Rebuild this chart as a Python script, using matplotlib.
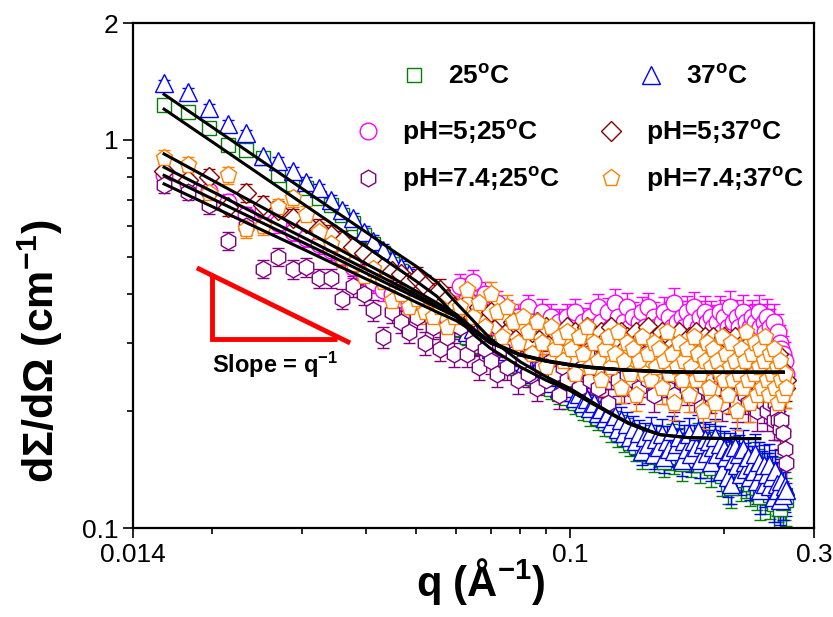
# SANS curves: dSigma/dOmega vs q for temperature / pH series
import numpy as np
import matplotlib
matplotlib.use("Agg")
from matplotlib import pyplot as plt
from matplotlib.lines import Line2D

plt.rcParams['font.family'] = ['Liberation Sans', 'DejaVu Sans']
plt.rcParams['mathtext.fontset'] = 'custom'
plt.rcParams['mathtext.rm'] = 'Liberation Sans:bold'
plt.rcParams['mathtext.it'] = 'Liberation Sans:bold'
plt.rcParams['mathtext.bf'] = 'Liberation Sans:bold'

# q grid (1/A)
q = [0.0161, 0.0179, 0.0197, 0.0215, 0.0233, 0.0251, 0.0269, 0.0287, 0.0305, 0.0323,
     0.0341, 0.0359, 0.0377, 0.0395, 0.0413, 0.0431, 0.0449, 0.0467, 0.0485, 0.0503,
     0.0521, 0.0539, 0.0557, 0.0575, 0.0593,
     0.0611, 0.0629, 0.0647, 0.0665, 0.0683, 0.0701, 0.0719, 0.0737, 0.0755, 0.0773,
     0.0791, 0.0809, 0.0827, 0.0845, 0.0863, 0.0881, 0.0899, 0.0917, 0.0935, 0.0953,
     0.0971, 0.0989, 0.1007, 0.1025, 0.1043, 0.1061, 0.1079, 0.1097, 0.1115, 0.1133,
     0.1151, 0.1169, 0.1187, 0.1205, 0.1223, 0.1241, 0.1259, 0.1277, 0.1295, 0.1313,
     0.1331, 0.1349, 0.1367, 0.1385, 0.1403, 0.1421, 0.1439, 0.1457, 0.1475, 0.1493,
     0.1511, 0.1529, 0.1547, 0.1565, 0.1583, 0.1601, 0.1619, 0.1637, 0.1655, 0.1673,
     0.1691, 0.1709, 0.1727, 0.1745, 0.1763, 0.1781, 0.1799, 0.1817, 0.1835, 0.1853,
     0.1871, 0.1889, 0.1907, 0.1925, 0.1943, 0.1961, 0.1979, 0.1997, 0.2015, 0.2033,
     0.2051, 0.2069, 0.2087, 0.2105, 0.2123, 0.2141, 0.2159, 0.2177, 0.2195, 0.2213,
     0.2231, 0.2249, 0.2267, 0.2285, 0.2303, 0.2321, 0.2339, 0.2357, 0.2375, 0.2393,
     0.2411, 0.2429, 0.2447, 0.2465, 0.2483, 0.2501, 0.2519, 0.2537, 0.2555, 0.2573,
     0.2591, 0.2609, 0.2627, 0.2645]

i_25C = [1.23, 1.18, 1.07, 0.97, 0.94, 0.90, 0.81, 0.77, 0.75, 0.71,
         0.68, 0.64, 0.61, 0.57, 0.54, 0.51, 0.48, 0.46, 0.44, 0.42,
         0.40, 0.38, 0.36, 0.35, 0.335,
         0.325, 0.31, 0.315, 0.295, 0.30, 0.282, 0.29, 0.272, 0.278, 0.262,
         0.268, 0.252, 0.258, 0.244, 0.25, 0.236, 0.242, 0.228, 0.236, 0.222,
         0.228, 0.216, 0.222, 0.21, 0.214, 0.203, 0.208, 0.197, 0.203, 0.192,
         0.196, 0.186, 0.19, 0.18, 0.186, 0.175, 0.182, 0.17, 0.178, 0.166,
         0.172, 0.162, 0.168, 0.155, 0.165, 0.16, 0.17, 0.152, 0.163, 0.157,
         0.168, 0.148, 0.162, 0.155, 0.17, 0.152, 0.158, 0.165, 0.146, 0.16,
         0.155, 0.168, 0.15, 0.16, 0.155, 0.17, 0.145, 0.158, 0.162, 0.15,
         0.16, 0.143, 0.155, 0.165, 0.148, 0.158, 0.136, 0.153, 0.146, 0.13,
         0.15, 0.127, 0.144, 0.155, 0.14, 0.148, 0.133, 0.152, 0.142, 0.136,
         0.145, 0.13, 0.14, 0.134, 0.148, 0.127, 0.142, 0.12, 0.134, 0.138,
         0.125, 0.132, 0.138, 0.122, 0.13, 0.115, 0.134, 0.124, 0.12, 0.112,
         0.126, 0.116, 0.122, 0.118]

i_37C = [1.40, 1.33, 1.21, 1.10, 1.04, 0.91, 0.88, 0.83, 0.78, 0.75,
         0.70, 0.66, 0.63, 0.58, 0.55, 0.52, 0.49, 0.47, 0.45, 0.43,
         0.41, 0.39, 0.37, 0.355, 0.34,
         0.335, 0.32, 0.325, 0.305, 0.31, 0.29, 0.30, 0.28, 0.285, 0.27,
         0.275, 0.26, 0.265, 0.25, 0.258, 0.242, 0.25, 0.236, 0.245, 0.23,
         0.236, 0.224, 0.23, 0.216, 0.222, 0.21, 0.215, 0.204, 0.21, 0.198,
         0.203, 0.192, 0.198, 0.186, 0.194, 0.18, 0.19, 0.176, 0.185, 0.172,
         0.18, 0.168, 0.176, 0.158, 0.172, 0.165, 0.178, 0.155, 0.17, 0.162,
         0.175, 0.152, 0.168, 0.16, 0.178, 0.158, 0.165, 0.172, 0.15, 0.168,
         0.16, 0.175, 0.155, 0.168, 0.162, 0.178, 0.15, 0.165, 0.17, 0.156,
         0.168, 0.148, 0.162, 0.172, 0.155, 0.165, 0.14, 0.16, 0.152, 0.135,
         0.158, 0.13, 0.15, 0.162, 0.145, 0.155, 0.138, 0.16, 0.148, 0.142,
         0.152, 0.135, 0.145, 0.14, 0.155, 0.132, 0.148, 0.125, 0.14, 0.145,
         0.13, 0.138, 0.145, 0.128, 0.135, 0.12, 0.14, 0.13, 0.125, 0.118,
         0.132, 0.122, 0.128, 0.125]

i_ph5_25 = [0.81, 0.77, 0.74, 0.69, 0.64, 0.66, 0.61, 0.58, 0.56, 0.54,
            0.52, 0.50, 0.47, 0.45, 0.43, 0.41, 0.40, 0.39, 0.38, 0.37,
            0.40, 0.36, 0.38, 0.35, 0.37,
            0.42, 0.39, 0.43, 0.37, 0.40, 0.34, 0.38, 0.33, 0.36, 0.30,
            0.35, 0.32, 0.37, 0.34, 0.31, 0.36, 0.33, 0.35, 0.32, 0.34,
            0.31, 0.35, 0.33, 0.36, 0.32, 0.34, 0.30, 0.35, 0.33, 0.37,
            0.34, 0.32, 0.36, 0.33, 0.38, 0.35, 0.32, 0.34, 0.37, 0.33,
            0.35, 0.31, 0.34, 0.36, 0.33, 0.37, 0.32, 0.35, 0.33, 0.30,
            0.34, 0.36, 0.32, 0.35, 0.33, 0.38, 0.34, 0.31, 0.35, 0.33,
            0.36, 0.32, 0.34, 0.37, 0.31, 0.33, 0.35, 0.32, 0.36, 0.34,
            0.31, 0.35, 0.33, 0.30, 0.34, 0.36, 0.32, 0.35, 0.31, 0.33,
            0.37, 0.32, 0.34, 0.30, 0.35, 0.33, 0.31, 0.36, 0.32, 0.34,
            0.30, 0.33, 0.35, 0.31, 0.34, 0.32, 0.36, 0.33, 0.30, 0.34,
            0.32, 0.35, 0.31, 0.33, 0.30, 0.34, 0.31, 0.29, 0.32, 0.30,
            0.29, 0.28, 0.27, 0.25]

i_ph5_37 = [0.83, 0.79, 0.80, 0.67, 0.73, 0.68, 0.66, 0.63, 0.61, 0.59,
            0.57, 0.55, 0.53, 0.51, 0.49, 0.47, 0.46, 0.45, 0.43, 0.44,
            0.42, 0.40, 0.41, 0.39, 0.37,
            0.36, 0.38, 0.35, 0.37, 0.34, 0.36, 0.33, 0.35, 0.32, 0.34,
            0.31, 0.33, 0.30, 0.32, 0.34, 0.31, 0.33, 0.30, 0.32, 0.29,
            0.31, 0.33, 0.30, 0.32, 0.28, 0.31, 0.33, 0.29, 0.31, 0.30,
            0.32, 0.29, 0.31, 0.33, 0.28, 0.30, 0.32, 0.29, 0.31, 0.27,
            0.30, 0.32, 0.28, 0.31, 0.29, 0.33, 0.30, 0.28, 0.31, 0.29,
            0.32, 0.28, 0.30, 0.31, 0.27, 0.30, 0.29, 0.32, 0.28, 0.30,
            0.29, 0.31, 0.27, 0.30, 0.32, 0.28, 0.30, 0.29, 0.31, 0.27,
            0.30, 0.28, 0.31, 0.29, 0.27, 0.30, 0.28, 0.31, 0.29, 0.27,
            0.30, 0.28, 0.29, 0.31, 0.27, 0.29, 0.28, 0.30, 0.26, 0.29,
            0.28, 0.30, 0.27, 0.29, 0.28, 0.26, 0.29, 0.27, 0.30, 0.28,
            0.26, 0.29, 0.27, 0.28, 0.26, 0.28, 0.27, 0.25, 0.28, 0.26,
            0.25, 0.24, 0.23, 0.24]

i_ph74_25 = [0.766, 0.736, 0.68, 0.55, 0.60, 0.465, 0.50, 0.465, 0.47, 0.44,
             0.44, 0.39, 0.42, 0.40, 0.365, 0.31, 0.36, 0.34, 0.32, 0.35,
             0.30, 0.33, 0.29, 0.31, 0.28,
             0.33, 0.28, 0.30, 0.26, 0.29, 0.27, 0.25, 0.29, 0.26, 0.28,
             0.24, 0.27, 0.25, 0.28, 0.23, 0.26, 0.24, 0.27, 0.25, 0.22,
             0.26, 0.24, 0.27, 0.25, 0.23, 0.26, 0.28, 0.24, 0.26, 0.23,
             0.25, 0.27, 0.21, 0.25, 0.26, 0.24, 0.27, 0.23, 0.25, 0.26,
             0.24, 0.27, 0.23, 0.25, 0.28, 0.24, 0.26, 0.22, 0.25, 0.27,
             0.24, 0.26, 0.23, 0.25, 0.27, 0.22, 0.25, 0.26, 0.24, 0.27,
             0.23, 0.25, 0.26, 0.22, 0.25, 0.27, 0.24, 0.26, 0.23, 0.25,
             0.27, 0.22, 0.24, 0.26, 0.23, 0.25, 0.21, 0.24, 0.26, 0.23,
             0.25, 0.22, 0.24, 0.26, 0.21, 0.24, 0.23, 0.25, 0.22, 0.24,
             0.21, 0.23, 0.25, 0.22, 0.24, 0.20, 0.23, 0.22, 0.24, 0.21,
             0.23, 0.20, 0.22, 0.21, 0.23, 0.19, 0.21, 0.20, 0.19, 0.18,
             0.19, 0.176, 0.16, 0.147]

i_ph74_37 = [0.897, 0.86, 0.73, 0.81, 0.59, 0.60, 0.67, 0.71, 0.64, 0.58,
             0.54, 0.50, 0.48, 0.445, 0.466, 0.43, 0.384, 0.40, 0.37, 0.39,
             0.36, 0.35, 0.37, 0.33, 0.35,
             0.37, 0.41, 0.35, 0.38, 0.33, 0.40, 0.36, 0.31, 0.37, 0.34,
             0.30, 0.35, 0.32, 0.28, 0.34, 0.30, 0.26, 0.33, 0.29, 0.31,
             0.27, 0.32, 0.29, 0.25, 0.31, 0.28, 0.33, 0.26, 0.30, 0.27,
             0.24, 0.29, 0.31, 0.26, 0.28, 0.32, 0.23, 0.27, 0.30, 0.25,
             0.29, 0.22, 0.27, 0.31, 0.25, 0.28, 0.24, 0.30, 0.26, 0.29,
             0.23, 0.27, 0.32, 0.25, 0.28, 0.21, 0.26, 0.30, 0.24, 0.27,
             0.29, 0.22, 0.26, 0.31, 0.24, 0.28, 0.25, 0.20, 0.27, 0.30,
             0.23, 0.26, 0.29, 0.21, 0.27, 0.25, 0.31, 0.24, 0.28, 0.22,
             0.26, 0.30, 0.24, 0.27, 0.20, 0.25, 0.29, 0.23, 0.27, 0.32,
             0.24, 0.21, 0.28, 0.25, 0.30, 0.22, 0.26, 0.29, 0.23, 0.27,
             0.31, 0.24, 0.22, 0.28, 0.25, 0.29, 0.23, 0.26, 0.21, 0.27,
             0.24, 0.22, 0.25, 0.23]

# relative errors
rel_err_temp = [0.02, 0.02, 0.02, 0.022, 0.022, 0.024, 0.024, 0.026, 0.026, 0.028,
                0.028, 0.03, 0.03, 0.032, 0.032, 0.034, 0.034, 0.036, 0.036, 0.038,
                0.038, 0.04, 0.04, 0.042, 0.042,
                0.044, 0.045, 0.046, 0.047, 0.048, 0.049, 0.05, 0.05, 0.051, 0.052,
                0.053, 0.054, 0.055, 0.056, 0.057, 0.058, 0.058, 0.059, 0.06, 0.061,
                0.062, 0.063, 0.064, 0.064, 0.065, 0.066, 0.067, 0.068, 0.069, 0.07,
                0.07, 0.071, 0.072, 0.073, 0.074, 0.075, 0.076, 0.076, 0.077, 0.078,
                0.079, 0.08, 0.081, 0.082, 0.082, 0.083, 0.084, 0.085, 0.086, 0.087,
                0.088, 0.088, 0.089, 0.09, 0.091, 0.092, 0.093, 0.094, 0.094, 0.095,
                0.096, 0.097, 0.098, 0.099, 0.1, 0.1, 0.101, 0.102, 0.103, 0.104,
                0.105, 0.106, 0.106, 0.107, 0.108, 0.109, 0.11, 0.111, 0.112, 0.112,
                0.113, 0.114, 0.115, 0.116, 0.117, 0.118, 0.118, 0.119, 0.12, 0.121,
                0.122, 0.123, 0.124, 0.124, 0.125, 0.126, 0.127, 0.128, 0.129, 0.13,
                0.13, 0.131, 0.132, 0.133, 0.134, 0.135, 0.136, 0.136, 0.137, 0.138,
                0.139, 0.14, 0.141, 0.142]
rel_err_ph = [0.05, 0.05, 0.05, 0.052, 0.052, 0.054, 0.054, 0.056, 0.056, 0.058,
              0.058, 0.06, 0.06, 0.062, 0.062, 0.064, 0.064, 0.066, 0.066, 0.068,
              0.068, 0.07, 0.07, 0.07, 0.072,
              0.072, 0.072, 0.073, 0.073, 0.074, 0.074, 0.075, 0.075, 0.076, 0.076,
              0.077, 0.077, 0.078, 0.078, 0.079, 0.079, 0.08, 0.08, 0.08, 0.081,
              0.081, 0.082, 0.082, 0.083, 0.083, 0.084, 0.084, 0.085, 0.085, 0.085,
              0.086, 0.086, 0.087, 0.087, 0.088, 0.088, 0.088, 0.089, 0.089, 0.09,
              0.09, 0.09, 0.091, 0.091, 0.092, 0.092, 0.092, 0.093, 0.093, 0.094,
              0.094, 0.094, 0.095, 0.095, 0.095, 0.096, 0.096, 0.096, 0.097, 0.097,
              0.097, 0.098, 0.098, 0.098, 0.099, 0.099, 0.099, 0.1, 0.1, 0.1,
              0.1, 0.101, 0.101, 0.101, 0.102, 0.102, 0.102, 0.103, 0.103, 0.103,
              0.104, 0.104, 0.104, 0.105, 0.105, 0.105, 0.106, 0.106, 0.106, 0.107,
              0.107, 0.107, 0.108, 0.108, 0.108, 0.109, 0.109, 0.109, 0.11, 0.11,
              0.11, 0.11, 0.111, 0.111, 0.111, 0.112, 0.112, 0.112, 0.113, 0.113,
              0.113, 0.114, 0.114, 0.114]

# fitted curves
fit_q_temp = [0.0161, 0.02, 0.025, 0.03, 0.035, 0.04, 0.045, 0.05, 0.055, 0.06,
              0.065, 0.07, 0.08, 0.09, 0.1, 0.11, 0.12, 0.13, 0.14, 0.15,
              0.17, 0.2, 0.235]
fit_37C = [1.31, 1.078, 0.882, 0.748, 0.651, 0.578, 0.519, 0.473, 0.43, 0.38,
           0.34, 0.307, 0.268, 0.245, 0.229, 0.212, 0.198, 0.187, 0.18, 0.174,
           0.171, 0.17, 0.17]
fit_25C = [1.20, 0.988, 0.808, 0.686, 0.597, 0.53, 0.476, 0.433, 0.395, 0.35,
           0.314, 0.29, 0.26, 0.24, 0.226, 0.21, 0.197, 0.186, 0.179, 0.174,
           0.171, 0.17, 0.17]
fit_q_ph = [0.0161, 0.02, 0.025, 0.03, 0.035, 0.04, 0.045, 0.05, 0.055, 0.06,
            0.065, 0.07, 0.08, 0.09, 0.1, 0.11, 0.12, 0.13, 0.14, 0.15,
            0.17, 0.2, 0.235, 0.261]
fit_ph74_37 = [0.92, 0.787, 0.671, 0.589, 0.527, 0.479, 0.441, 0.408, 0.38, 0.355,
               0.325, 0.302, 0.28, 0.27, 0.264, 0.26, 0.257, 0.255, 0.254, 0.253,
               0.252, 0.252, 0.252, 0.252]
fit_ph5_37 = [0.85, 0.736, 0.634, 0.562, 0.507, 0.464, 0.429, 0.40, 0.373, 0.35,
              0.323, 0.30, 0.279, 0.269, 0.263, 0.259, 0.257, 0.255, 0.254, 0.253,
              0.252, 0.252, 0.252, 0.252]
fit_ph5_25 = [0.81, 0.705, 0.612, 0.545, 0.494, 0.453, 0.42, 0.393, 0.37, 0.35,
              0.322, 0.30, 0.279, 0.269, 0.263, 0.259, 0.257, 0.255, 0.254, 0.253,
              0.252, 0.252, 0.252, 0.252]
fit_ph74_25 = [0.77, 0.673, 0.586, 0.524, 0.476, 0.438, 0.408, 0.382, 0.36, 0.342,
               0.32, 0.30, 0.279, 0.269, 0.263, 0.259, 0.257, 0.255, 0.254, 0.253,
               0.252, 0.252, 0.252, 0.252]

series = [
    (r'25$^{o}$C', i_25C, rel_err_temp, 's', '#008000', 10),
    (r'37$^{o}$C', i_37C, rel_err_temp, '^', '#0000FF', 13),
    (r'pH=5;25$^{o}$C', i_ph5_25, rel_err_ph, 'o', '#FF00FF', 12),
    (r'pH=5;37$^{o}$C', i_ph5_37, rel_err_ph, 'D', '#8B0000', 10),
    (r'pH=7.4;25$^{o}$C', i_ph74_25, rel_err_ph, 'h', '#800080', 12),
    (r'pH=7.4;37$^{o}$C', i_ph74_37, rel_err_ph, 'p', '#FF8000', 12.5),
]

fig = plt.figure(figsize=(8.33, 6.17), dpi=100)
ax = fig.add_axes([0.1597, 0.1442, 0.8175, 0.8185])

handles = []
for label, vals, rel, mk, col, ms in series:
    vals = np.array(vals)
    err = vals * np.array(rel)
    ax.errorbar(q, vals, yerr=err, fmt=mk, color=col, mfc='white', mec=col,
                ms=ms, mew=1.0, elinewidth=1.0, capsize=4, capthick=1.0)
    handles.append(Line2D([], [], ls='none', marker=mk, color=col, mfc='white',
                          mec=col, ms=ms, mew=1.0, label=label))

for fq, fv in [(fit_q_temp, fit_37C), (fit_q_temp, fit_25C),
               (fit_q_ph, fit_ph74_37), (fit_q_ph, fit_ph5_37),
               (fit_q_ph, fit_ph5_25), (fit_q_ph, fit_ph74_25)]:
    ax.plot(fq, fv, color='black', lw=2.2, zorder=10)

# slope guide
ax.plot([0.01866, 0.0372], [0.468, 0.2997], color='red', lw=3.5, zorder=11,
        solid_capstyle='butt')
ax.plot([0.02, 0.02, 0.035], [0.4475, 0.3066, 0.3066], color='red', lw=3.5,
        zorder=11, solid_capstyle='butt', solid_joinstyle='miter')
ax.text(0.0200, 0.263, r'Slope = q$^{-1}$', fontsize=17, fontweight='bold',
        ha='left', va='center')

ax.set_xscale('log')
ax.set_yscale('log')
ax.set_xlim(0.014, 0.3)
ax.set_ylim(0.1, 2)

ax.set_xticks([0.014, 0.1, 0.3])
ax.set_xticklabels(['0.014', '0.1', '0.3'])
ax.set_xticks([0.02, 0.03, 0.04, 0.05, 0.06, 0.07, 0.08, 0.09, 0.2], minor=True)
ax.set_yticks([0.1, 1, 2])
ax.set_yticklabels(['0.1', '1', '2'])
ax.set_yticks([0.2, 0.3, 0.4, 0.5, 0.6, 0.7, 0.8, 0.9], minor=True)
ax.xaxis.set_minor_formatter(plt.NullFormatter())
ax.yaxis.set_minor_formatter(plt.NullFormatter())
ax.tick_params(which='both', direction='out', top=False, right=False,
               labelsize=19, width=1.2)
ax.tick_params(which='major', length=7)
ax.tick_params(which='minor', length=4)
for sp in ax.spines.values():
    sp.set_linewidth(1.6)

ax.set_xlabel(r'q (Å$^{-1}$)', fontsize=30, fontweight='bold')
ax.set_ylabel(r'dΣ/dΩ (cm$^{-1}$)', fontsize=31, fontweight='bold')
ax.xaxis.set_label_coords(0.51, -0.055)
ax.yaxis.set_label_coords(-0.10, 0.35)

leg1 = ax.legend(handles=handles[:2], ncol=2, loc='upper left',
                 bbox_to_anchor=(398 / 833, 1 - 65 / 617),
                 bbox_transform=fig.transFigure, frameon=False,
                 prop={'size': 19, 'weight': 'bold'}, handlelength=1.2,
                 handletextpad=0.7, columnspacing=4.75, borderpad=0,
                 borderaxespad=0)
ax.add_artist(leg1)
# column-major order so that rows read pH=5 / pH=7.4
ax.legend(handles=[handles[2], handles[4], handles[3], handles[5]], ncol=2,
          loc='upper left', bbox_to_anchor=(352 / 833, 1 - 118 / 617),
          bbox_transform=fig.transFigure, frameon=False,
          prop={'size': 19, 'weight': 'bold'}, handlelength=1.2,
          handletextpad=0.7, columnspacing=1.35, labelspacing=0.68,
          borderpad=0, borderaxespad=0)

fig.savefig('out.png', dpi=100)
